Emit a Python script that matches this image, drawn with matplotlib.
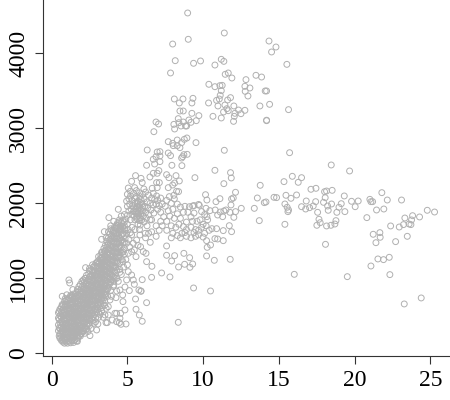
import matplotlib
matplotlib.use("Agg")
import matplotlib.pyplot as plt

# values: (weight, length)
top_arm = [(8.98,4538),(11.40,4271),(9.02,4187),(7.99,4124),(14.35,4164),(14.81,4084),(14.52,4018),(8.16,3902),
    (9.37,3867),(9.83,3898),(10.78,3844),(11.2,3920),(11.37,3893),(15.53,3853),(7.85,3738),(11.46,3720),(11.66,3738),
    (11.9,3671),(13.49,3707),(13.86,3684),(12.83,3649),(10.38,3587),(10.78,3555),(11.11,3569),(11.26,3573),(12.76,3560),
    (13.09,3538),(11.2,3502),(12.78,3493),(14.1,3498),(14.19,3498),(12.96,3431),(11.13,3440),(8.1,3391),(8.67,3391),
    (9.33,3400),(8.43,3338),(9.26,3338),(10.89,3373),(11.07,3391),(11.62,3378),(11.81,3409),(10.36,3338),(10.98,3298),
    (11.44,3311),(11.57,3262),(12.03,3298),(13.75,3298),(14.39,3320),(15.64,3249),(8.47,3231),(8.69,3231),(9.26,3200),
    (9.72,3169),(10.65,3160),(11.2,3138),(11.35,3218),(11.66,3235),(12.1,3200),(12.06,3160),(12.34,3244),(12.76,3240),
    (12.5,3195),(12.01,3093),(14.19,3102),(14.19,3108),(6.89,3084),(7.06,3058),(6.75,2955),(8.36,3129),(8.07,3053),
    (8.12,2991),(8.4,3075),(8.54,3031),(8.69,3084),(8.84,3031),(8.91,3031),(9.06,3111),(9.2,3080),(9.55,3102),
    (7.7,2822),(7.99,2800),(8.29,2844),(8.03,2769),(8.29,2769),(8.58,2809),(8.47,2742),(8.76,2853),(8.93,2871),
    (9.53,2809),(6.31,2711),(11.4,2707),(15.71,2675),(6.97,2684),(7.15,2689),(7.15,2631),(7.7,2671),(7.85,2636),
    (8.95,2653),(8.73,2649),(8.65,2622),(8.58,2604),(6.71,2587),(6.89,2622),(7.15,2556),(6.8,2524),(6.27,2507),
    (7.94,2507),(8.6,2502),(7.08,2436),(6.97,2400),(6.71,2400),(6.49,2351),(10.78,2440),(11.81,2409),(11.86,2338),
    (9.46,2342),(5.54,2369),(5.28,2293),(5.9,2333),(5.98,2276),(7.59,2382),(7.74,2342),(8.21,2369),(8.43,2298),
    (8.12,2271),(7.11,2276),(6.93,2276),(11.37,2262),(13.77,2240),(15.34,2289),(15.89,2360),(16.28,2280),(5.06,2204),
    (5.48,2209),(6.09,2191),(6.64,2200),(6.97,2209),(7.7,2209),(7.99,2244),(8.25,2160),(8.38,2156),(10.16,2115),
    (12.14,2147),(5.21,2098),(5.57,2089),(5.83,2089),(6.71,2133),(6.93,2098),(8.07,2107),(7.77,2089),(13.58,2071),
    (14.68,2080),(14.85,2076),(15.47,2107),(16.17,2111),(11.11,2062),(11.88,2058)]

right_arm = [(18.46,2511),(19.67,2431),(16.5,2342),(10.85,2022),(11.99,2071),(11.84,1978),(10.25,2044),(14.04,2009),
    (14.15,2018),(15.8,2067),(15.4,1991),(15.55,1947),(15.64,1911),(15.6,1889),(13.38,1933),(12.52,1933),(13.71,1769),
    (15.4,1720),(17.12,2187),(17.45,2200),(18.02,2155),(18.15,2164),(18.52,2173),(19.32,2098),(18.06,2075),(17.95,2013),
    (17.43,2022),(16.81,2031),(16.5,1955),(16.77,1924),(17.03,1942),(17.27,1964),(18.22,1964),(18.26,1907),(18.48,1991),
    (19.12,1995),(18.97,1947),(18.83,1880),(19.36,1889),(19.8,2027),(20.24,2031),(20.04,1955),(17.56,1880),(17.65,1787),
    (17.73,1742),(17.51,1707),(18.15,1698),(18.44,1707),(18.7,1724),(18.77,1769),(18.08,1453),(21.01,2053),(21.08,2022),
    (21.19,2022),(21.8,2142),(22.16,2044),(23.1,2044),(21.45,1911),(21.93,1924),(20.81,1809),(24.8,1907),(25.28,1884),
    (24.29,1818),(23.83,1835),(23.32,1804),(23.76,1778),(23.6,1724),(23.72,1716),(23.23,1716),(22.95,1684),(22.38,1698),
    (21.23,1587),(21.67,1609),(21.69,1547),(21.41,1475),(22.71,1489),(23.48,1560),(21.54,1258),(21.91,1249),(22.29,1280),
    (21.08,1164),(22.33,1049),(16.02,1053),(19.52,1022),(24.4,738),(23.28,658)]

mid_right = [(11.33,1636),(11.88,1622),(10.89,1662),(10.58,1662),(10.78,1529),(10.96,1524),(11.33,1502),(10.25,1822),
    (11.73,1702),(12.03,1813),(11.29,1822),(10.96,1844),(11.51,1911),(11.37,1898),(11.13,1884),(10.8,1911),(10.45,1902),
    (10.19,1933),(9.75,1973),(9.31,1964),(11.77,1880),(12.14,1889),(10.23,1502),(10.27,1413),(10.49,1444),(10.23,1298),
    (10.74,1240),(11.79,1253),(9.37,871),(10.49,831),(7.81,1018),(7.26,1071),(6.6,1013),(5.98,982),(8.78,1187),(9.31,1191),
    (8.38,1151),(9.13,1147),(9.11,1275),(8.73,1333),(7.59,1431),(7.59,1307),(8.12,1302),(7.92,1231),(6.27,1222),(6.62,1160),
    (5.9,831),(5.54,724),(6.27,675),(5.57,587),(5.79,511),(8.36,413),(5.98,427)]

mid_arc = [(7.6,2040),(7.3,1990),(7.9,2000),(7.5,1960),(8.1,2060),(8.3,1990),(7.7,1900),(8.0,1920),(8.5,1950),(8.8,1960),
    (9.1,1955),(9.4,1970),(9.7,1985),(9.9,1890),(10.1,1850),(9.4,1870),(9.2,1820),(8.7,1880),(8.5,1800),(8.1,1800),
    (7.8,1830),(7.4,1820),(7.2,1880),(7.0,1920),(7.6,1760),(7.9,1700),(8.2,1680),(8.4,1720),(8.7,1690),(8.9,1650),
    (9.2,1680),(9.5,1650),(9.7,1640),(9.9,1680),(10.0,1720),(10.2,1700),(9.6,1760),(9.3,1760),(8.9,1750),(8.6,1600),
    (8.3,1570),(8.5,1540),(8.9,1560),(9.2,1540),(9.5,1560),(9.7,1580),(10.1,1600),(10.0,1550),(8.0,1600),(7.9,1540),
    (7.6,1640),(7.3,1700),(7.1,1640),(6.9,1700),(6.6,1780),(6.3,1700),(6.6,1620),(6.9,1560),(6.4,1600),(6.2,1540),
    (9.0,1880),(8.3,1860),(9.8,1780),(10.3,1780),(7.2,1760),(8.8,1610),(9.4,1610),(10.4,1640)]

upper_blob = [(5.0,2120),(5.2,2160),(5.4,2130),(5.6,2170),(5.8,2140),(6.0,2120),(6.2,2150),(6.4,2110),(6.6,2070),(6.8,2050),
    (7.0,2040),(7.2,2070),(4.95,2030),(5.1,2060),(5.3,2040),(5.5,2070),(5.7,2030),(5.9,2050),(6.1,2060),(6.3,2020),(6.5,2000),
    (6.7,1980),(6.9,1990),(7.1,1970),(5.0,1960),(5.15,1990),(5.35,1970),(5.5,2000),(5.65,1960),(5.8,1980),(5.95,1990),
    (6.15,1960),(6.35,1940),(6.55,1910),(6.75,1870),(5.1,1900),(5.25,1920),(5.4,1890),(5.55,1930),(5.7,1900),(5.85,1920),
    (6.0,1900),(6.2,1880),(6.4,1850),(5.3,1850),(5.45,1830),(5.6,1860),(5.75,1840),(5.9,1860),(6.05,1830),(6.25,1800),
    (5.5,1780),(5.65,1790),(5.8,1770),(5.95,1780),(6.1,1750),(5.7,1720),(5.85,1710),(6.5,1780),(5.2,1780),(5.0,1840),
    (5.62,1815),(5.72,1870),(5.82,1810),(5.92,1900),(5.52,1880),(5.42,1950),(5.78,1940),(6.02,1950),(5.68,2000),(5.88,2010)]

band_top = [(4.6,1830),(4.4,1920),(4.29,1711),(4.47,1778),(3.78,1809),(3.48,1622),(3.3,1520),(3.3,1347),(4.95,1600),(4.84,1644),
    (4.51,1644),(5.28,1578),(5.61,1511),(4.95,1467),(4.62,1511),(4.73,1378),(5.06,1333),(5.46,1378),(5.28,1356),(5.57,1289),
    (6.05,1356),(6.23,1333),(6.51,1480),(5.87,1422),(6.18,1600),(5.83,1578),(5.39,1467),(5.1,1520),(5.3,1680),(5.0,1720),
    (5.5,1650),(5.8,1650),(4.8,1700),(5.15,1420),(5.7,1440),(4.9,1790),(4.7,1600),(4.85,1530),(5.05,1650),(5.2,1610),
    (4.55,1700),(4.7,1770),(3.9,1700),(4.1,1760),(3.6,1540),(3.75,1620)]

band_low = [(1.14,978),(1.19,938),(2.24,1142),(2.93,1204),(3.01,1209),(2.2,1000),(5.39,978),(5.46,920),(5.13,836),(4.84,884),
    (5.76,844),(5.9,827),(4.71,689),(4.69,778),(4.84,578),(4.91,391),(4.58,387),(4.29,422),(4.47,409),(4.18,533),(4.29,533),
    (4.55,533),(4.51,467),(3.59,409),(3.67,409),(4.0,444),(3.74,511),(3.52,511),(2.97,311),(2.53,236),(2.2,267),(1.98,289),
    (5.06,1089),(5.28,1044),(4.95,978),(4.51,844),(4.25,742),(4.07,889),(3.85,711),(3.74,622),(4.6,1050),(4.75,1150),
    (4.9,1250),(5.0,1180),(4.4,960),(4.3,830),(4.2,1000),(3.5,640),(3.3,560),(3.1,480),(2.8,400),(2.3,320),(1.7,160),
    (2.6,330),(2.9,420),(3.2,520),(3.4,480),(3.6,600),(3.95,760),(4.1,960),(4.5,1120),(4.65,1250),(4.8,1320),(3.05,390),(2.4,290),
    (1.9,230),(2.1,290),(0.7,760),(1.0,780),(1.4,850),(1.8,890),(2.0,960),(2.5,1130),(2.75,1150),(3.2,1260),(3.1,1290)]

# dense part of the cloud, one list of lengths per weight column
dense_x = [0.45,0.55,0.65,0.75,0.85,0.95,1.05,1.15,1.25,1.35,1.45,1.55,1.65,1.75,1.85,1.95,2.05,2.15,2.25,2.35,2.45,2.55,2.65,
    2.75,2.85,2.95,3.05,3.15,3.25,3.35,3.45,3.55,3.65,3.75,3.85,3.95,4.05,4.15,4.25,4.35,4.45,4.6,4.8]
dense_y = [[300,380,470,540],[200,260,330,410,500,590],[170,230,290,350,420,480,550,620],[150,200,265,320,385,450,510,580,640],
    [135,190,250,310,370,430,500,560,620,690],[150,215,275,340,400,465,525,590,650,710],[135,195,255,320,380,445,505,570,630,700],
    [165,230,290,350,415,475,540,600,665,740],[140,205,265,330,390,455,520,580,645,710,770],[170,235,300,360,425,490,550,615,680,745],
    [145,215,275,340,400,465,530,590,655,720,790],[185,250,315,375,440,505,565,630,695,760],[165,230,295,360,420,485,545,610,675,740,810],
    [215,280,340,405,470,530,595,660,725,785],[240,310,375,440,500,565,630,695,755,830],[265,335,400,465,530,590,655,720,785,860],
    [300,365,430,495,555,620,685,750,810,900],[330,395,455,520,585,650,710,775,840,950],[345,420,485,545,610,675,740,800,865,930,1000],
    [370,445,510,575,640,700,765,830,895,965],[400,470,535,600,665,730,790,855,920,990,1060],[430,500,565,630,690,755,820,885,950,1020],
    [465,530,590,655,720,785,845,910,975,1045,1110],[490,560,620,685,750,810,875,940,1005,1075],[520,590,650,715,780,840,905,970,1035,1100,1170],
    [550,620,680,745,810,875,935,1000,1065,1130],[580,650,715,775,840,905,965,1030,1095,1160,1230],[620,685,750,810,875,940,1000,1065,1130,1195],
    [660,725,785,850,915,975,1040,1105,1170,1240,1310],[700,760,825,890,950,1015,1080,1145,1210,1280,1350],[740,805,870,930,995,1060,1125,1190,1255,1325,1400],
    [790,850,915,980,1040,1105,1170,1235,1300,1370,1440],[840,900,960,1025,1090,1155,1215,1280,1345,1415,1490],[880,945,1010,1070,1135,1200,1265,1330,1395,1465,1540],
    [930,995,1060,1120,1185,1250,1315,1380,1445,1515,1590],[980,1045,1110,1170,1235,1300,1365,1430,1495,1565,1640],[1030,1095,1160,1225,1290,1350,1415,1480,1550,1620],
    [1090,1155,1220,1280,1345,1410,1475,1540,1610,1680],[1150,1215,1280,1340,1405,1470,1535,1600,1670],[1210,1275,1340,1400,1465,1530,1600,1665,1735],
    [1280,1345,1410,1475,1540,1610,1680,1750],[1340,1420,1500,1580,1660,1740],[1400,1480,1570,1660,1750,1850]]

# second pass over the dense part, columns between the first ones
fill_x = [0.5,0.7,0.9,1.1,1.3,1.5,1.7,1.9,2.1,2.3,2.5,2.7,2.9,3.1,3.3,3.5,3.7,3.9,4.1,4.3,4.5,4.7]
fill_y = [[230,340,450,560],[180,300,410,530,650],[170,280,395,510,625,730],[160,260,370,490,600,720],[180,300,410,525,640,760],
    [170,285,400,510,620,740],[200,320,430,550,660,770,850],[260,370,480,590,700,810,920],[300,410,520,640,750,860,980],[390,480,600,710,820,930,1040],
    [370,470,570,690,800,910,1020,1100],[440,540,650,770,880,990,1090,1180],[470,590,700,810,930,1040,1150],[540,640,750,870,980,1090,1200],
    [610,720,820,940,1050,1170,1280],[700,780,890,1010,1120,1230,1360],[760,860,980,1090,1210,1320,1440],[840,950,1060,1180,1290,1410,1520,1660],
    [910,1020,1140,1250,1370,1480,1600],[1000,1110,1230,1340,1460,1570,1700],[1080,1200,1310,1430,1540,1650],[1220,1350,1470,1590,1690]]

x_ticks = [0,5,10,15,20,25]
y_ticks = [0,1000,2000,3000,4000]

x_vals = []
y_vals = []
for group in [top_arm, right_arm, mid_right, mid_arc, upper_blob, band_top, band_low]:
    for p in group:
        x_vals.append(p[0])
        y_vals.append(p[1])
for i in range(len(dense_x)):
    for v in dense_y[i]:
        x_vals.append(dense_x[i])
        y_vals.append(v)
for i in range(len(fill_x)):
    for v in fill_y[i]:
        x_vals.append(fill_x[i])
        y_vals.append(v)

plt.rcParams['font.family'] = ['Liberation Serif', 'DejaVu Serif']

fig = plt.figure(figsize=(4.5,4.0), dpi=100)
ax = fig.add_axes([43/450, 44/400, 407/450, 356/400])
ax.scatter(x_vals, y_vals, s=18, facecolors='none', edgecolors='#b0b0b0', linewidths=0.7)

ax.set_xlim(-0.57, 26.3)
ax.set_ylim(-36, 4711)
ax.set_xticks(x_ticks)
ax.set_yticks(y_ticks)
ax.spines['top'].set_visible(False)
ax.spines['right'].set_visible(False)
ax.spines['left'].set_color('#333333')
ax.spines['bottom'].set_color('#333333')
ax.tick_params(axis='both', length=6, width=0.8, color='#333333', labelsize=17, pad=4)
plt.setp(ax.get_yticklabels(), rotation=90, va='center')

fig.savefig('out.png', dpi=100)
